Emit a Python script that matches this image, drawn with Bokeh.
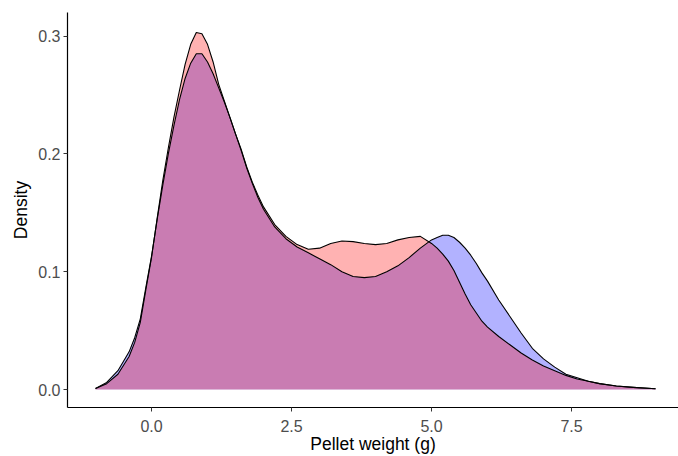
from bokeh.plotting import figure
from bokeh.models import FixedTicker, NumeralTickFormatter, Range1d
from bokeh.embed import file_html
from bokeh.resources import INLINE

# Pellet weight grid (g)
weight = [-1.0, -0.8, -0.6, -0.4, -0.3, -0.2, -0.1,
          0.0, 0.1, 0.2, 0.3, 0.4, 0.5, 0.6, 0.7, 0.8, 0.9, 1.0,
          1.1, 1.2, 1.3, 1.4, 1.5, 1.6, 1.7, 1.8, 1.9, 2.0,
          2.2, 2.4, 2.6, 2.8, 3.0, 3.2, 3.4, 3.6, 3.8, 4.0, 4.2, 4.4, 4.6, 4.8, 5.0,
          5.1, 5.2, 5.3, 5.4, 5.5, 5.6, 5.7, 5.8, 5.9, 6.0,
          6.2, 6.4, 6.6, 6.8, 7.0, 7.2, 7.4, 7.6, 7.8, 8.0,
          8.3, 8.6, 9.0]

# Density of group 1 (red)
density_red = [0.0008, 0.005, 0.013, 0.028, 0.040, 0.057, 0.085,
               0.112, 0.145, 0.177, 0.205, 0.231, 0.254, 0.276, 0.293, 0.303, 0.302, 0.293,
               0.278, 0.259, 0.245, 0.231, 0.217, 0.204, 0.189, 0.176, 0.165, 0.155,
               0.140, 0.130, 0.123, 0.119, 0.120, 0.124, 0.126, 0.1255, 0.124, 0.123, 0.124,
               0.127, 0.129, 0.130, 0.124,
               0.120, 0.115, 0.109, 0.101, 0.091, 0.081, 0.072, 0.065, 0.058, 0.053,
               0.045, 0.038, 0.031, 0.025, 0.020, 0.016, 0.012, 0.009, 0.007, 0.005,
               0.003, 0.0018, 0.0006]

# Density of group 2 (blue)
density_blue = [0.0008, 0.006, 0.016, 0.032, 0.044, 0.060, 0.087,
                0.113, 0.144, 0.173, 0.200, 0.224, 0.246, 0.264, 0.277, 0.285, 0.285, 0.278,
                0.268, 0.256, 0.244, 0.231, 0.217, 0.203, 0.188, 0.175, 0.163, 0.153,
                0.138, 0.128, 0.121, 0.116, 0.111, 0.106, 0.100, 0.096, 0.095, 0.096, 0.100,
                0.105, 0.112, 0.120, 0.127,
                0.129, 0.131, 0.131, 0.129, 0.125, 0.120, 0.114, 0.107, 0.099, 0.092,
                0.076, 0.062, 0.048, 0.035, 0.026, 0.019, 0.013, 0.010, 0.007, 0.005,
                0.003, 0.0018, 0.0006]

x_ticks = [0.0, 2.5, 5.0, 7.5]
y_ticks = [0.0, 0.1, 0.2, 0.3]

FONT = "Liberation Sans"

p = figure(width=678, height=456, output_backend="svg", toolbar_location=None,
           x_range=Range1d(-1.5, 9.41), y_range=Range1d(-0.01525, 0.32),
           min_border_left=67, min_border_right=0, min_border_top=12, min_border_bottom=49)

p.varea(x=weight, y1=0, y2=density_blue, fill_color="blue", fill_alpha=0.3)
p.varea(x=weight, y1=0, y2=density_red, fill_color="red", fill_alpha=0.3)
p.line(weight, density_blue, line_color="black", line_width=1.1, line_join="round")
p.line(weight, density_red, line_color="black", line_width=1.1, line_join="round")

p.xgrid.visible = False
p.ygrid.visible = False
p.outline_line_color = None
p.background_fill_color = "white"
p.border_fill_color = "white"

for ax in (p.xaxis[0], p.yaxis[0]):
    ax.axis_line_color = "black"
    ax.axis_line_width = 1.2
    ax.major_tick_line_color = "#333333"
    ax.major_tick_line_width = 1
    ax.major_tick_out = 4
    ax.major_tick_in = 0
    ax.minor_tick_line_color = None
    ax.major_label_text_font = FONT
    ax.major_label_text_font_size = "16px"
    ax.major_label_text_color = "#4D4D4D"
    ax.axis_label_text_font = FONT
    ax.axis_label_text_font_size = "17.5px"
    ax.axis_label_text_font_style = "normal"
    ax.axis_label_text_color = "black"
    ax.formatter = NumeralTickFormatter(format="0.0")

p.xaxis[0].ticker = FixedTicker(ticks=x_ticks)
p.yaxis[0].ticker = FixedTicker(ticks=y_ticks)
p.xaxis[0].axis_label = "Pellet weight (g)"
p.yaxis[0].axis_label = "Density"
p.xaxis[0].major_label_standoff = 8
p.yaxis[0].major_label_standoff = 3
p.xaxis[0].axis_label_standoff = -1
p.yaxis[0].axis_label_standoff = 4

open("out.html", "w").write(file_html(p, INLINE))
